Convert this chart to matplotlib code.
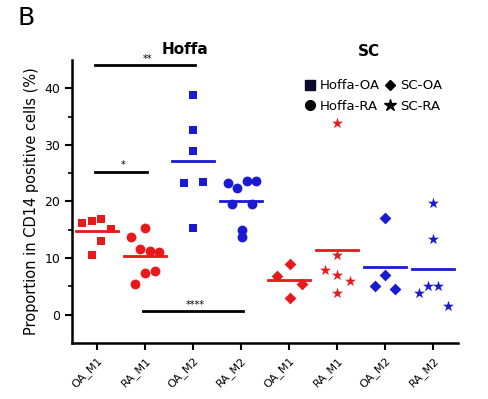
import matplotlib
matplotlib.use("Agg")
import matplotlib.pyplot as plt
from matplotlib.lines import Line2D
import numpy as np

plt.rcParams['font.family'] = ['DejaVu Sans']

categories = ["OA_M1", "RA_M1", "OA_M2", "RA_M2", "OA_M1", "RA_M1", "OA_M2", "RA_M2"]

hoffa_oa_m1 = [16.2, 16.6, 16.9, 15.1, 13.1, 10.5]
hoffa_ra_m1 = [13.7, 15.3, 11.6, 11.3, 11.1, 7.4, 7.8, 5.4]
hoffa_oa_m2 = [38.9, 32.6, 29.0, 23.3, 23.5, 15.4]
hoffa_ra_m2 = [23.3, 22.4, 23.6, 23.7, 19.5, 19.6, 15.0, 13.8]
sc_oa_m1 = [6.9, 8.9, 5.5, 2.9]
sc_ra_m1 = [33.8, 10.6, 7.9, 7.1, 5.9, 3.8]
sc_oa_m2 = [17.1, 7.1, 5.0, 4.5]
sc_ra_m2 = [19.8, 13.4, 5.1, 5.0, 3.8, 1.6]

# horizontal jitter offsets (in category units)
offs_hoffa_oa_m1 = [-0.31, -0.11, 0.09, 0.29, 0.09, -0.11]
offs_hoffa_ra_m1 = [-0.30, 0.0, -0.10, 0.10, 0.30, 0.0, 0.20, -0.20]
offs_hoffa_oa_m2 = [0.0, 0.0, 0.0, -0.19, 0.21, 0.0]
offs_hoffa_ra_m2 = [-0.28, -0.08, 0.12, 0.32, -0.18, 0.22, 0.02, 0.02]
offs_sc_oa_m1 = [-0.26, 0.02, 0.28, 0.02]
offs_sc_ra_m1 = [0.0, 0.0, -0.25, 0.0, 0.27, 0.0]
offs_sc_oa_m2 = [0.0, 0.0, -0.21, 0.21]
offs_sc_ra_m2 = [0.0, 0.0, -0.10, 0.11, -0.29, 0.32]

RED = '#e61a1a'
BLUE = '#1a1ad2'

groups = [
    (hoffa_oa_m1, offs_hoffa_oa_m1, 's', RED, 40),
    (hoffa_ra_m1, offs_hoffa_ra_m1, 'o', RED, 50),
    (hoffa_oa_m2, offs_hoffa_oa_m2, 's', BLUE, 40),
    (hoffa_ra_m2, offs_hoffa_ra_m2, 'o', BLUE, 50),
    (sc_oa_m1, offs_sc_oa_m1, 'D', RED, 36),
    (sc_ra_m1, offs_sc_ra_m1, '*', RED, 70),
    (sc_oa_m2, offs_sc_oa_m2, 'D', BLUE, 36),
    (sc_ra_m2, offs_sc_ra_m2, '*', BLUE, 70),
]

fig = plt.figure(figsize=(4.88, 3.99), dpi=100)
ax = fig.add_axes([0.1475, 0.1404, 0.791, 0.7092])

for i, (vals, offs, mk, col, s) in enumerate(groups):
    xs = i + np.array(offs)
    ax.scatter(xs, vals, marker=mk, color=col, s=s, linewidths=0, zorder=3)
    m = np.mean(vals)
    ax.plot([i - 0.43, i + 0.43], [m, m], color=col, lw=2, zorder=4)

# significance bars
sig = [(0, 2, 44.1, '**'), (0, 1, 25.3, '*'), (1, 3, 0.7, '****')]
for a, b, y, t in sig:
    ax.plot([a - 0.05, b + 0.05], [y, y], color='black', lw=2, zorder=2)
    ax.text((a + b) / 2 + 0.05, y + 0.2, t, ha='center', va='bottom', fontsize=7)

ax.set_xlim(-0.52, 7.52)
ax.set_ylim(-5, 45)
ax.set_xticks(range(len(categories)))
ax.set_xticklabels(categories, rotation=45, ha='right', rotation_mode='anchor', fontsize=8)
ax.set_yticks([0, 10, 20, 30, 40])
ax.set_yticks([5, 15, 25, 35], minor=True)
ax.tick_params(axis='y', labelsize=9, width=1.5, length=5)
ax.tick_params(axis='y', which='minor', width=1.2, length=3)
ax.tick_params(axis='x', width=1.5, length=5)
for sp in ['top', 'right']:
    ax.spines[sp].set_visible(False)
for sp in ['left', 'bottom']:
    ax.spines[sp].set_linewidth(1.8)
ax.set_ylabel('Proportion in CD14 positive cells (%)', fontsize=10.5)

fig.text(0.035, 0.955, 'B', fontsize=18, ha='left', va='center')
fig.text(0.38, 0.875, 'Hoffa', fontsize=11, fontweight='bold', ha='center', va='center')
fig.text(0.755, 0.87, 'SC', fontsize=11, fontweight='bold', ha='center', va='center')

handles = [
    Line2D([], [], marker='s', color='#0a0a2a', ls='none', markersize=6.5),
    Line2D([], [], marker='o', color='black', ls='none', markersize=7),
    Line2D([], [], marker='D', color='black', ls='none', markersize=5.5),
    Line2D([], [], marker='*', color='black', ls='none', markersize=9),
]
labels = ['Hoffa-OA', 'Hoffa-RA', 'SC-OA', 'SC-RA']
ax.legend(handles, labels, ncol=2, loc='upper left', bbox_to_anchor=(0.585, 0.95),
          frameon=False, fontsize=9.5, handletextpad=0.3, columnspacing=0.2,
          handlelength=1.0, labelspacing=0.55, borderaxespad=0)

fig.savefig('out.png', dpi=100)
